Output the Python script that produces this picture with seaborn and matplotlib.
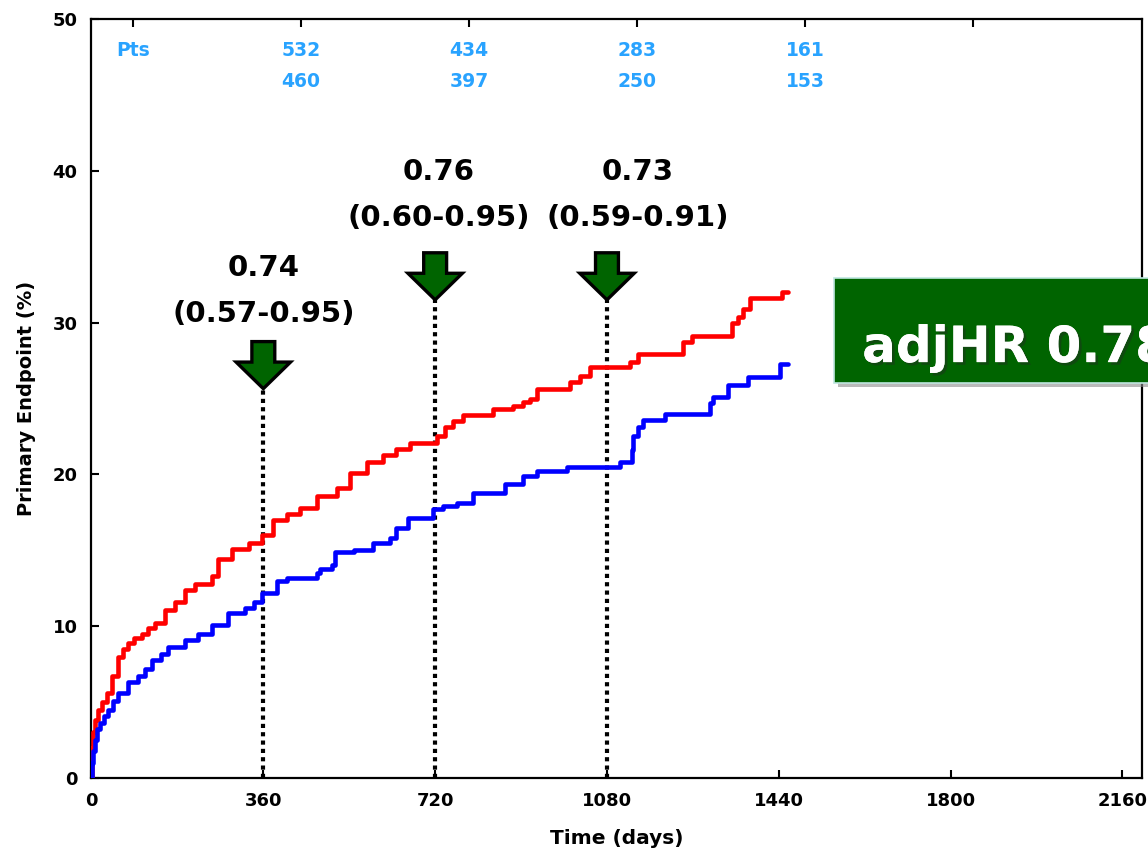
import pandas as pd
import matplotlib.pyplot as plt
import seaborn as sns
from matplotlib.patches import FancyArrow, Rectangle
import matplotlib.patheffects as pe

# cumulative incidence (step curves)
red_days = [0, 1, 4, 8, 14, 22, 32, 42, 56, 66, 77, 90, 105, 118, 133, 154, 175, 196, 217, 252,
            266, 294, 329, 357, 381, 409, 437, 472, 514, 542, 577, 611, 639, 667, 723, 741, 758, 779,
            842, 884, 905, 919, 933, 1003, 1023, 1044, 1128, 1146, 1240, 1258, 1341, 1355, 1366,
            1380, 1446, 1460]
red_vals = [0, 2.0, 3.0, 3.8, 4.5, 5.0, 5.6, 6.7, 8.0, 8.5, 8.9, 9.2, 9.5, 9.9, 10.2, 11.1, 11.6,
            12.4, 12.8, 13.3, 14.4, 15.1, 15.5, 16.0, 17.0, 17.4, 17.8, 18.6, 19.1, 20.1, 20.8, 21.3,
            21.7, 22.1, 22.5, 23.1, 23.5, 23.9, 24.3, 24.5, 24.8, 25.0, 25.6, 26.1, 26.5, 27.1, 27.4,
            27.9, 28.7, 29.1, 30.0, 30.4, 30.9, 31.6, 32.0, 32.0]

blue_days = [0, 1, 3, 7, 12, 18, 26, 35, 45, 56, 77, 98, 112, 126, 145, 161, 196, 224, 252, 287,
             322, 340, 357, 388, 409, 472, 479, 503, 510, 549, 590, 625, 639, 664, 716, 737, 765,
             800, 866, 905, 933, 996, 1107, 1132, 1135, 1146, 1156, 1202, 1296, 1303, 1334, 1376,
             1443, 1460]
blue_vals = [0, 1.0, 1.8, 2.5, 3.2, 3.6, 4.1, 4.5, 5.1, 5.6, 6.3, 6.7, 7.2, 7.8, 8.2, 8.6, 9.1,
             9.5, 10.1, 10.9, 11.2, 11.6, 12.2, 13.0, 13.2, 13.5, 13.8, 14.0, 14.9, 15.0, 15.5,
             15.8, 16.5, 17.1, 17.7, 17.9, 18.1, 18.8, 19.4, 19.9, 20.2, 20.5, 20.8, 21.6, 22.5,
             23.1, 23.6, 24.0, 24.7, 25.1, 25.9, 26.4, 27.3, 27.3]

# patients at risk (top rows)
risk_days = [87, 439, 791, 1143, 1495]
risk_red = ['Pts', '532', '434', '283', '161']
risk_blue = ['', '460', '397', '250', '153']
top_ticks = [87, 439, 791, 1143, 1495, 1847]

# hazard ratios at 1, 2, 3 years
hr_days = [360, 720, 1080]
hr_text_x = [360, 728, 1145]
hr_vals = ['0.74', '0.76', '0.73']
hr_ci = ['(0.57-0.95)', '(0.60-0.95)', '(0.59-0.91)']
hr_text_y = [33.6, 39.9, 39.9]
arrow_top = [28.75, 34.6, 34.6]

df = pd.concat([
    pd.DataFrame({'day': red_days, 'pct': red_vals, 'arm': 'Control'}),
    pd.DataFrame({'day': blue_days, 'pct': blue_vals, 'arm': 'Treatment'}),
])

sns.set_style('white')
plt.rcParams['font.family'] = ['DejaVu Sans']
plt.rcParams.update({'text.color': 'black', 'axes.labelcolor': 'black',
                     'xtick.color': 'black', 'ytick.color': 'black'})

fig = plt.figure(figsize=(11.48, 8.56), dpi=100)
ax = fig.add_axes([0.0797, 0.0911, 0.9151, 0.8867])

sns.lineplot(data=df, x='day', y='pct', hue='arm', estimator=None, sort=False,
             palette={'Control': '#ff0000', 'Treatment': '#0000ff'},
             drawstyle='steps-post', lw=3.3, legend=False, ax=ax, zorder=3)

ax.set_xlim(0, 2201)
ax.set_ylim(0, 50)
ax.set_xticks([0, 360, 720, 1080, 1440, 1800, 2160])
ax.set_yticks([0, 10, 20, 30, 40, 50])
ax.set_xticks(top_ticks, minor=True)
ax.tick_params(which='major', direction='in', length=6, width=1.5, bottom=True, left=True,
               top=False, right=False, labelsize=13, pad=10)
ax.tick_params(which='minor', direction='in', length=6, width=1.5, top=True, bottom=False)
for lab in ax.get_xticklabels() + ax.get_yticklabels():
    lab.set_fontweight('bold')
for s in ax.spines.values():
    s.set_color('black')
    s.set_linewidth(1.6)

ax.set_xlabel('Time (days)', fontsize=14.5, fontweight='bold', labelpad=14)
ax.set_ylabel('Primary Endpoint (%)', fontsize=14, fontweight='bold', labelpad=12)

# at-risk numbers
for d, a, b in zip(risk_days, risk_red, risk_blue):
    ax.text(d, 47.9, a, color='#29a3ff', fontsize=13.5, fontweight='bold', ha='center', va='center')
    ax.text(d, 45.9, b, color='#29a3ff', fontsize=13.5, fontweight='bold', ha='center', va='center')

# HR annotations, arrows and dotted markers
for d, tx, v, ci, ty, at in zip(hr_days, hr_text_x, hr_vals, hr_ci, hr_text_y, arrow_top):
    ax.text(tx, ty, v, fontsize=21, fontweight='bold', ha='center', va='center')
    ax.text(tx, ty - 3.0, ci, fontsize=21, fontweight='bold', ha='center', va='center')
    ax.add_patch(FancyArrow(d, at, 0, -3.1, width=48, head_width=114, head_length=1.75,
                            length_includes_head=True, facecolor='#006400', edgecolor='black',
                            lw=2.4, joinstyle='miter', zorder=4))
    ax.plot([d, d], [0, at - 3.0], color='black', lw=3, linestyle=(0, (1, 1)), zorder=2)

# green badge on the right
fig.add_artist(Rectangle((0.7300, 0.5480), 0.30, 0.1227, transform=fig.transFigure,
                         facecolor='#8c8c8c', edgecolor='none', alpha=0.6, zorder=9))
fig.add_artist(Rectangle((0.7265, 0.5526), 0.30, 0.1227, transform=fig.transFigure,
                         facecolor='#006400', edgecolor='#bfe6e0', lw=1.2, zorder=10))
fig.text(0.751, 0.577, 'adjHR 0.78', color='white', fontsize=36, fontweight='bold',
         ha='left', va='baseline', zorder=11,
         path_effects=[pe.withSimplePatchShadow(offset=(2, -2), shadow_rgbFace='#1a3a1a', alpha=0.6),
                       pe.Normal()])

fig.savefig('out.png', dpi=100)
